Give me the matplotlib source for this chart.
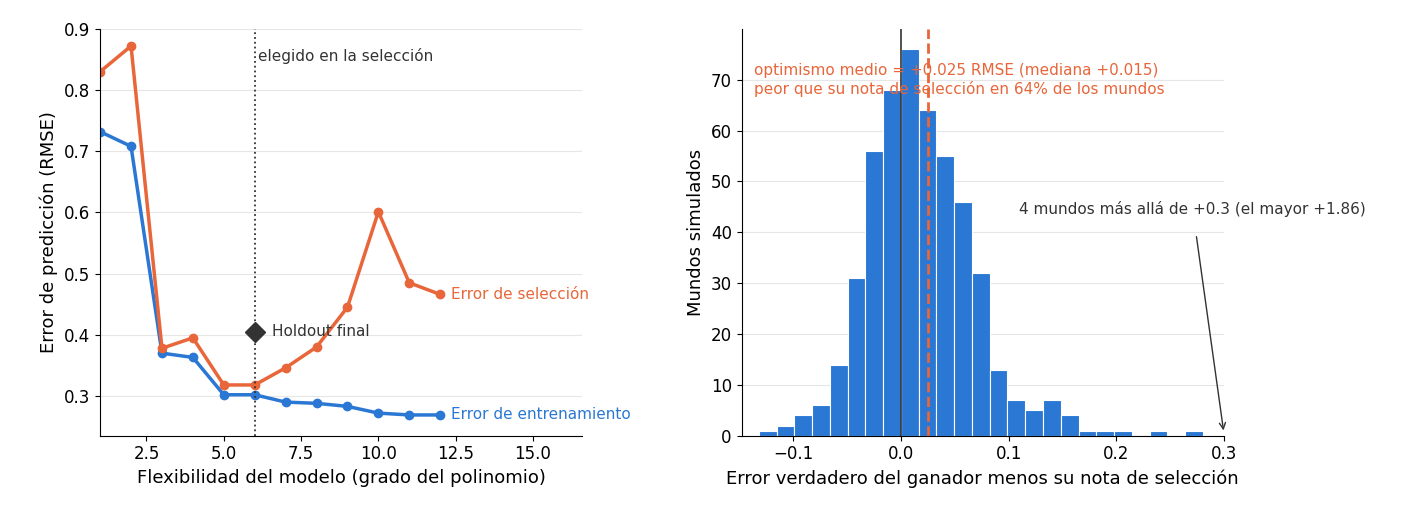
import matplotlib
matplotlib.use("Agg")
import matplotlib.pyplot as plt
import numpy as np

degree = list(range(1, 13))
train_err = [0.732, 0.708, 0.370, 0.363, 0.302, 0.302, 0.290, 0.288, 0.283, 0.272, 0.269, 0.269]
sel_err = [0.830, 0.872, 0.378, 0.395, 0.318, 0.318, 0.346, 0.380, 0.445, 0.601, 0.485, 0.466]
chosen_deg = 6
holdout = 0.405

bin_start = -0.132
bin_width = 0.0165
counts = [1, 2, 4, 6, 14, 31, 56, 68, 76, 64, 55, 46, 32, 13, 7, 5, 7, 4, 1, 1, 1, 0, 1, 0, 1]
mean_opt = 0.025

ORANGE = "#E8663A"
BLUE = "#2A77D4"
DARK = "#333333"

fig, (ax1, ax2) = plt.subplots(1, 2, figsize=(14.1, 5.25), dpi=100)
fig.subplots_adjust(left=0.071, right=0.868, top=0.945, bottom=0.17, wspace=0.33)

for ax in (ax1, ax2):
    ax.spines["top"].set_visible(False)
    ax.spines["right"].set_visible(False)
    ax.grid(axis="y", color="#e6e6e6", lw=0.8)
    ax.set_axisbelow(True)
    ax.tick_params(labelsize=12)

ax1.plot(degree, train_err, "-o", color=BLUE, lw=2.5, ms=6)
ax1.plot(degree, sel_err, "-o", color=ORANGE, lw=2.5, ms=6)
ax1.axvline(chosen_deg, color=DARK, ls=":", lw=1.3)
ax1.plot([chosen_deg], [holdout], "D", color=DARK, ms=10)
ax1.text(chosen_deg + 0.55, holdout, "Holdout final", color=DARK, fontsize=11, va="center")
ax1.text(chosen_deg + 0.1, 0.855, "elegido en la selección", color=DARK, fontsize=11, va="center")
ax1.text(12.35, sel_err[-1], "Error de selección", color=ORANGE, fontsize=11, va="center")
ax1.text(12.35, train_err[-1], "Error de entrenamiento", color=BLUE, fontsize=11, va="center")
ax1.set_xlim(1, 16.6)
ax1.set_ylim(0.235, 0.9)
ax1.set_xticks([2.5, 5.0, 7.5, 10.0, 12.5, 15.0])
ax1.set_yticks([0.3, 0.4, 0.5, 0.6, 0.7, 0.8, 0.9])
ax1.set_xlabel("Flexibilidad del modelo (grado del polinomio)", fontsize=13)
ax1.set_ylabel("Error de predicción (RMSE)", fontsize=13)

lefts = bin_start + bin_width * np.arange(len(counts))
ax2.bar(lefts, counts, width=bin_width, align="edge", color=BLUE, edgecolor="white", lw=0.8)
ax2.axvline(0, color=DARK, lw=1.2)
ax2.axvline(mean_opt, color=ORANGE, ls="--", lw=2)
ax2.text(-0.136, 70, "optimismo medio = +0.025 RMSE (mediana +0.015)\npeor que su nota de selección en 64% de los mundos",
         color=ORANGE, fontsize=11, va="center", linespacing=1.2)
ax2.annotate("4 mundos más allá de +0.3 (el mayor +1.86)", xy=(0.3, 0.5), xytext=(0.271, 44.5),
             ha="center", va="center", fontsize=11, color=DARK,
             arrowprops=dict(arrowstyle="->", color=DARK, lw=1, shrinkA=12), annotation_clip=False)
ax2.set_xlim(-0.148, 0.3)
ax2.set_ylim(0, 80)
ax2.set_xticks([-0.1, 0.0, 0.1, 0.2, 0.3])
ax2.set_yticks([0, 10, 20, 30, 40, 50, 60, 70])
ax2.set_xlabel("Error verdadero del ganador menos su nota de selección", fontsize=13)
ax2.set_ylabel("Mundos simulados", fontsize=13)

fig.savefig("out.png", dpi=100)
